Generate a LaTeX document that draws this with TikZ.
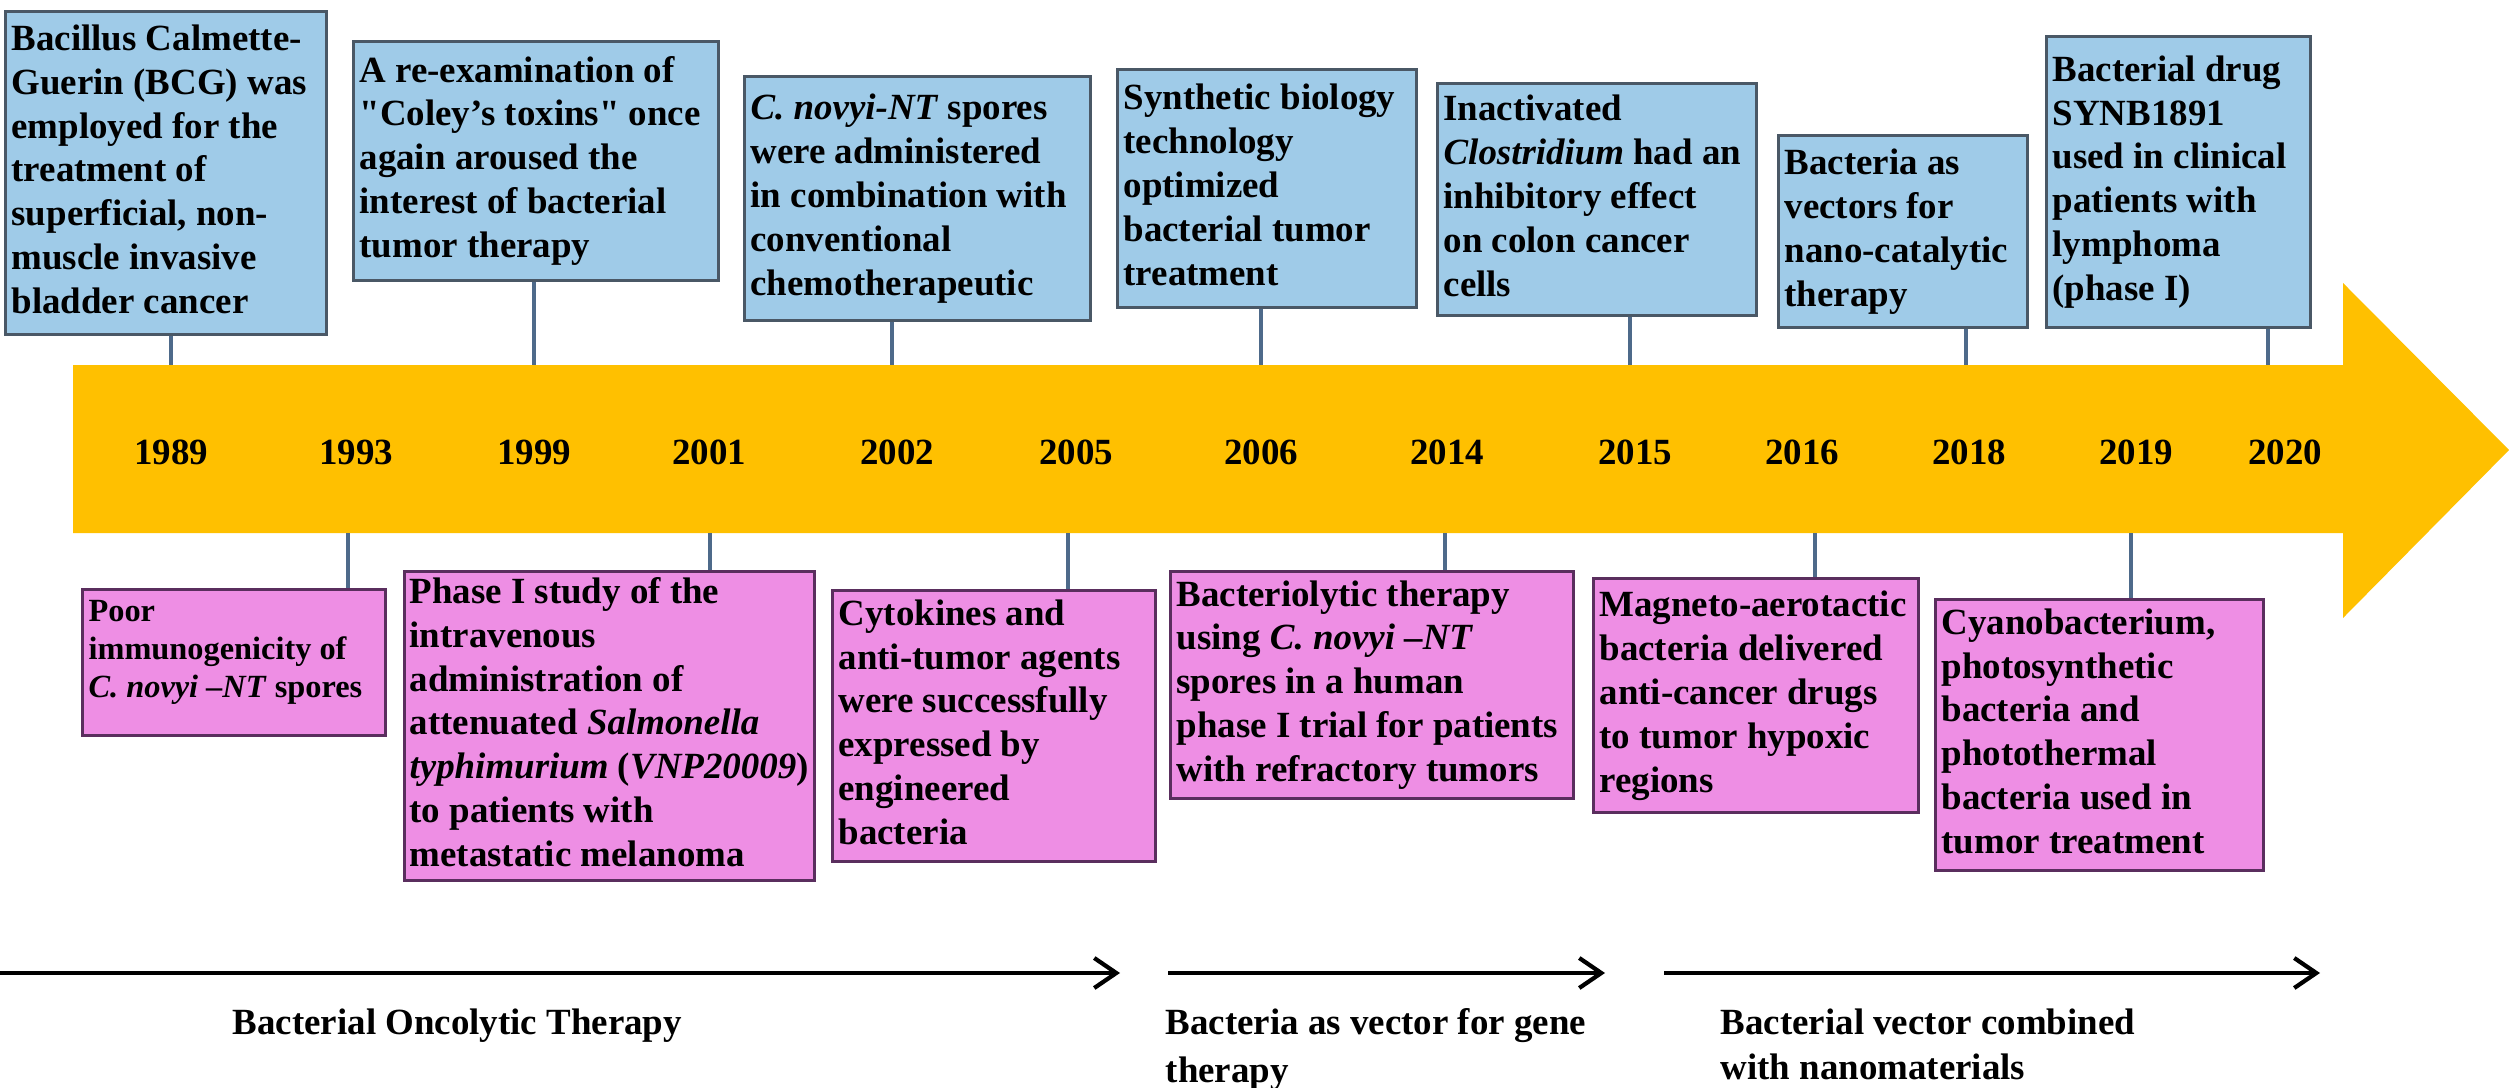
\documentclass[tikz,border=0pt]{standalone}
\usepackage{fontspec}
\setmainfont{Liberation Serif}
\usetikzlibrary{arrows.meta}
\definecolor{bandC}{HTML}{FFC000}
\definecolor{blueF}{HTML}{9FCBE8}
\definecolor{blueD}{HTML}{4A5866}
\definecolor{pinkF}{HTML}{EE8EE4}
\definecolor{pinkD}{HTML}{5A2E5E}
\definecolor{connC}{HTML}{4E6A8A}
% text block of fixed width, lines never wrap
\newcommand{\evtxt}[2]{\makebox[#1][l]{\begin{tabular}{@{}l@{}}#2\end{tabular}}}
\tikzset{
  txt/.style={font=\bfseries\fontsize{10.5}{12.5}\selectfont},
  evbox/.style={txt, anchor=north west, inner xsep=0.06cm, inner ysep=0pt, line width=0.9pt},
  topbox/.style={evbox, draw=blueD, fill=blueF},
  botbox/.style={evbox, draw=pinkD, fill=pinkF},
  conn/.style={draw=connC, line width=0.9pt},
  yr/.style={txt, inner sep=0pt},
  era/.style={line width=1.2pt, -{Straight Barb[length=0.22cm,width=0.3cm]}},
  eralbl/.style={txt, anchor=north west, align=left, inner sep=0pt},
}
\begin{document}
\begin{tikzpicture}[x=0.01cm,y=-0.01cm]
\useasboundingbox (0,0) rectangle (2509,1088);
\fill[white] (0,0) rectangle (2509,1088);
% timeline band
\fill[bandC] (73,365) -- (2343,365) -- (2343,283) -- (2509,450) -- (2343,618) -- (2343,533) -- (73,533) -- cycle;
% years
\node[yr] (y1989) at (171,452) {1989};
\node[yr] (y1993) at (356,452) {1993};
\node[yr] (y1999) at (534,452) {1999};
\node[yr] (y2001) at (709,452) {2001};
\node[yr] (y2002) at (897,452) {2002};
\node[yr] (y2005) at (1076,452) {2005};
\node[yr] (y2006) at (1261,452) {2006};
\node[yr] (y2014) at (1447,452) {2014};
\node[yr] (y2015) at (1635,452) {2015};
\node[yr] (y2016) at (1802,452) {2016};
\node[yr] (y2018) at (1969,452) {2018};
\node[yr] (y2019) at (2136,452) {2019};
\node[yr] (y2020) at (2285,452) {2020};
% top boxes
\node[topbox, minimum height=3.23cm] (A) at (4,10)
 {\evtxt{3.09cm}{Bacillus Calmette-\\Guerin (BCG) was\\employed for the\\treatment of\\superficial, non-\\muscle invasive\\bladder cancer}};
\node[topbox, minimum height=2.39cm] (B) at (352,40)
 {\evtxt{3.53cm}{A re-examination of\\\textquotedbl Coley’s toxins\textquotedbl{} once\\again aroused the\\interest of bacterial\\tumor therapy}};
\node[topbox, minimum height=2.44cm] (C) at (743,75)
 {\evtxt{3.34cm}{\textit{C. novyi-NT} spores\\were administered\\in combination with\\conventional\\chemotherapeutic}};
\node[topbox, minimum height=2.38cm] (D) at (1116,68)
 {\evtxt{2.87cm}{Synthetic biology\\technology\\optimized\\bacterial tumor\\treatment}};
\node[topbox, minimum height=2.32cm] (E) at (1436,82)
 {\evtxt{3.07cm}{Inactivated\\\textit{Clostridium} had an\\inhibitory effect\\on colon cancer\\cells}};
\node[topbox, minimum height=1.92cm] (F) at (1777,134)
 {\evtxt{2.37cm}{Bacteria as\\vectors for\\nano-catalytic\\therapy}};
\node[topbox, minimum height=2.91cm] (G) at (2045,35)
 {\evtxt{2.52cm}{Bacterial drug\\SYNB1891\\used in clinical\\patients with\\lymphoma\\(phase I)}};
% bottom boxes
\node[botbox, font=\bfseries\fontsize{9.2}{10.8}\selectfont, minimum height=1.46cm] (H) at (81,588)
 {\evtxt{2.91cm}{Poor\\immunogenicity of\\\textit{C. novyi –NT} spores\\[0.22cm]}};
\node[botbox, inner xsep=0.05cm, minimum height=3.09cm] (I) at (403,570)
 {\evtxt{4.00cm}{Phase I study of the\\intravenous\\administration of\\attenuated \textit{Salmonella}\\\textit{typhimurium} (\textit{VNP20009})\\to patients with\\metastatic melanoma}};
\node[botbox, minimum height=2.71cm] (J) at (831,589)
 {\evtxt{3.11cm}{Cytokines and\\anti-tumor agents\\were successfully\\expressed by\\engineered\\bacteria}};
\node[botbox, minimum height=2.27cm] (K) at (1169,570)
 {\evtxt{3.91cm}{Bacteriolytic therapy\\using \textit{C. novyi –NT}\\spores in a human\\phase I trial for patients\\with refractory tumors}};
\node[botbox, minimum height=2.34cm] (L) at (1592,577)
 {\evtxt{3.13cm}{Magneto-aerotactic\\bacteria delivered\\anti-cancer drugs\\to tumor hypoxic\\regions}};
\node[botbox, minimum height=2.71cm] (M) at (1934,598)
 {\evtxt{3.16cm}{Cyanobacterium,\\photosynthetic\\bacteria and\\photothermal\\bacteria used in\\tumor treatment}};
% connector end points on the band
\coordinate (cA) at (171,365);
\coordinate (cB) at (534,365);
\coordinate (cC) at (892,365);
\coordinate (cD) at (1261,365);
\coordinate (cE) at (1630,365);
\coordinate (cF) at (1966,365);
\coordinate (cG) at (2268,365);
\coordinate (cH) at (348,533);
\coordinate (cI) at (710,533);
\coordinate (cJ) at (1068,533);
\coordinate (cK) at (1445,533);
\coordinate (cL) at (1815,533);
\coordinate (cM) at (2131,533);
\foreach \b in {A,B,C,D,E,F,G}{\draw[conn] (\b.south -| c\b) -- (c\b);}
\foreach \b in {H,I,J,K,L,M}{\draw[conn] (c\b) -- (\b.north -| c\b);}
% eras
\coordinate (e1s) at (0,973);
\coordinate (e1e) at (1120,973);
\coordinate (e2s) at (1168,973);
\coordinate (e2e) at (1605,973);
\coordinate (e3s) at (1664,973);
\coordinate (e3e) at (2320,973);
\draw[era] (e1s) -- (e1e);
\draw[era] (e2s) -- (e2e);
\draw[era] (e3s) -- (e3e);
\node[eralbl] (l1) at (232,1008) {Bacterial Oncolytic Therapy};
\node[eralbl, font=\bfseries\fontsize{10.5}{13.5}\selectfont] (l2) at (1165,1008) {Bacteria as vector for gene\\therapy};
\node[eralbl, font=\bfseries\fontsize{10.5}{12.8}\selectfont] (l3) at (1720,1008) {Bacterial vector combined\\with nanomaterials};
\end{tikzpicture}
\end{document}
